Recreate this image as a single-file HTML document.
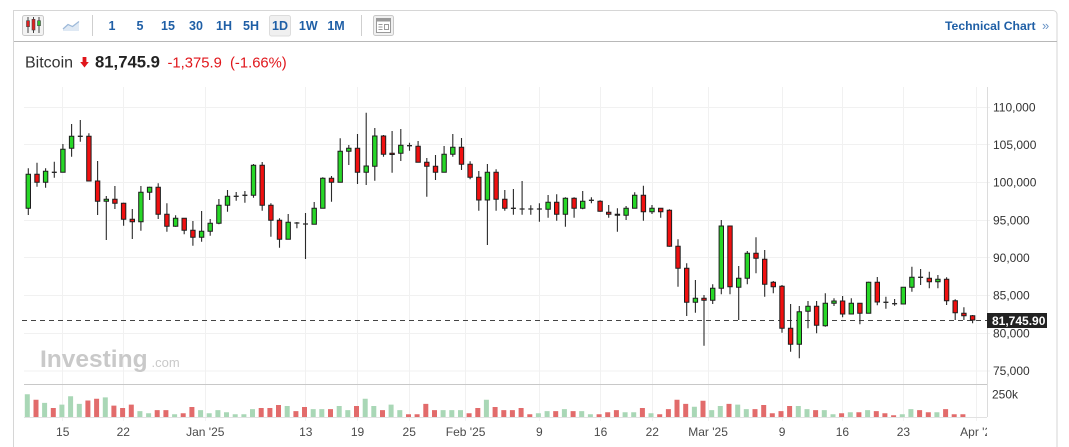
<!DOCTYPE html>
<html><head><meta charset="utf-8"><style>
html,body{margin:0;padding:0;background:#fff;}
svg{display:block;font-family:"Liberation Sans",Arial,sans-serif;}
</style></head><body>
<svg width="1069" height="447" viewBox="0 0 1069 447" xmlns="http://www.w3.org/2000/svg">
<defs><clipPath id="cl"><rect x="0" y="0" width="987" height="447"/></clipPath></defs>
<rect width="1069" height="447" fill="#fff"/>
<!-- outer panel -->
<path d="M13.5 447V10.5H1053a4 4 0 0 1 4 4V447" fill="none" stroke="#d6d6d6"/>
<line x1="14" y1="41.5" x2="1057" y2="41.5" stroke="#b8b8b8"/>
<!-- toolbar -->
<rect x="22.5" y="15.5" width="21" height="20" rx="2" fill="#f3f3f3" stroke="#c8c8c8"/>
<path d="M28 17v16M33.5 17v16M39 17v16" stroke="#444" stroke-width="1"/>
<rect x="26.5" y="20.7" width="3" height="6" fill="#e02020" stroke="#444" stroke-width="0.6"/>
<rect x="32" y="19.3" width="3" height="10.7" fill="#e02020" stroke="#444" stroke-width="0.6"/>
<rect x="37.5" y="20.7" width="3" height="5" fill="#30c030" stroke="#444" stroke-width="0.6"/>
<path d="M63 29L68 24.5L72.5 26.5L79 21.5V31H63Z" fill="#dfe9f4"/>
<path d="M63 29L68 24.5L72.5 26.5L79 21.5" fill="none" stroke="#9db9d9" stroke-width="1.2"/>
<line x1="92.5" y1="15" x2="92.5" y2="36" stroke="#cfcfcf"/>
<rect x="269.5" y="15.5" width="21" height="20.5" rx="2" fill="#f0f0f0" stroke="#dcdcdc"/>
<g fill="#1f5fa6" font-size="12.5" font-weight="bold" text-anchor="middle">
<text x="112" y="30">1</text><text x="140" y="30">5</text><text x="168" y="30">15</text><text x="196" y="30">30</text><text x="224" y="30">1H</text><text x="251" y="30">5H</text><text x="280" y="30">1D</text><text x="308.3" y="30">1W</text><text x="336" y="30">1M</text>
</g>
<line x1="361.5" y1="15" x2="361.5" y2="36" stroke="#cfcfcf"/>
<rect x="373.5" y="15.5" width="20" height="20" rx="2" fill="#f0f0f0" stroke="#c8c8c8"/>
<rect x="376.5" y="18.5" width="14" height="14" fill="#fff" stroke="#9a9a9a"/>
<rect x="376.5" y="18.5" width="14" height="3" fill="#9a9a9a"/>
<path d="M378.5 24.5h4M378.5 27h4M378.5 29.5h4M384.5 24.5h4v5h-4z" stroke="#9a9a9a" fill="none" stroke-width="1"/>
<text x="945" y="30" fill="#1f5fa6" font-size="12.2" font-weight="bold">Technical Chart</text>
<text x="1042" y="30" fill="#6a94c6" font-size="13">»</text>
<!-- quote header -->
<text x="25" y="67.7" fill="#333" font-size="16">Bitcoin</text>
<path d="M82.6 57h3.8v5h2.4L84.5 67.5L80.2 62h2.4z" fill="#e0161b"/>
<text x="95" y="67.7" fill="#222" font-size="16.7" font-weight="bold">81,745.9</text>
<text x="167.5" y="67.7" fill="#e0161b" font-size="14.8">-1,375.9</text>
<text x="230" y="67.7" fill="#e0161b" font-size="14.8">(-1.66%)</text>
<!-- grid -->
<g stroke="#f1f1f1" stroke-width="1">
<path d="M24 107.5H990M24 144.5H990M24 182.5H990M24 220.5H990M24 257.5H990M24 295.5H990M24 333.5H990M24 371H990"/>
<path d="M62.5 87V421M123.5 87V421M205.5 87V421M305.5 87V421M357.5 87V421M409.5 87V421M465.5 87V421M539.5 87V421M600.5 87V421M652.5 87V421M708.5 87V421M782.5 87V421M842.5 87V421M903.5 87V421M976.5 87V421"/>
</g>
<!-- watermark -->
<text x="40" y="367" fill="#c9c9c9" font-size="24.5" font-weight="bold">Investing</text>
<text x="151.5" y="367" fill="#c9c9c9" font-size="13">.com</text>
<!-- axes -->
<line x1="987.5" y1="87" x2="987.5" y2="417" stroke="#dcdcdc"/>
<line x1="24" y1="384.5" x2="987" y2="384.5" stroke="#c8c8c8"/>
<line x1="24" y1="417.5" x2="987" y2="417.5" stroke="#e2e2e2"/>
<g fill="#333" font-size="12">
<text x="993" y="111.5">110,000</text><text x="993" y="149">105,000</text><text x="993" y="186.5">100,000</text><text x="993" y="224.5">95,000</text><text x="993" y="262">90,000</text><text x="993" y="299.5">85,000</text><text x="993" y="337.5">80,000</text><text x="993" y="375">75,000</text><text x="992" y="398.5">250k</text>
</g>
<g fill="#4a4a4a" font-size="12" text-anchor="middle" clip-path="url(#cl)">
<text x="62.7" y="436">15</text><text x="123.3" y="436">22</text><text x="205.3" y="436">Jan '25</text><text x="305.8" y="436">13</text><text x="357.5" y="436">19</text><text x="409.2" y="436">25</text><text x="465.6" y="436">Feb '25</text><text x="539.3" y="436">9</text><text x="600.6" y="436">16</text><text x="652.3" y="436">22</text><text x="708.1" y="436">Mar '25</text><text x="782.1" y="436">9</text><text x="842.4" y="436">16</text><text x="903.4" y="436">23</text><text x="979" y="436">Apr '25</text>
</g>
<!-- volume -->
<path fill="#a9d7b6" d="M24.8 417v-22.7h5v22.7zM42.1 417v-14.1h5v14.1zM59.4 417v-12.4h5v12.4zM68.1 417v-20.7h5v20.7zM76.8 417v-13.1h5v13.1zM102.8 417v-19.6h5v19.6zM137.4 417v-5.9h5v5.9zM146.1 417v-3.8h5v3.8zM172.1 417v-2.8h5v2.8zM198.1 417v-6.9h5v6.9zM206.7 417v-3.8h5v3.8zM215.4 417v-6.9h5v6.9zM224 417v-4.8h5v4.8zM232.7 417v-2.8h5v2.8zM241.4 417v-2.8h5v2.8zM250 417v-7.9h5v7.9zM284.7 417v-11h5v11zM310.7 417v-7.9h5v7.9zM319.3 417v-7.9h5v7.9zM336.7 417v-11h5v11zM345.3 417v-6.9h5v6.9zM362.7 417v-18.3h5v18.3zM371.3 417v-11h5v11zM388.6 417v-12.4h5v12.4zM397.3 417v-6.9h5v6.9zM440.6 417v-6.9h5v6.9zM449.3 417v-6.9h5v6.9zM458 417v-6.9h5v6.9zM483.9 417v-17.2h5v17.2zM535.9 417v-3.8h5v3.8zM544.6 417v-5.9h5v5.9zM561.9 417v-7.9h5v7.9zM579.2 417v-5.9h5v5.9zM587.9 417v-2.8h5v2.8zM622.6 417v-4.8h5v4.8zM631.2 417v-4.8h5v4.8zM648.5 417v-3.8h5v3.8zM691.9 417v-10.3h5v10.3zM709.2 417v-6.9h5v6.9zM717.8 417v-11h5v11zM735.2 417v-12.4h5v12.4zM743.8 417v-7.9h5v7.9zM795.8 417v-11h5v11zM804.5 417v-7.9h5v7.9zM821.8 417v-6.9h5v6.9zM830.5 417v-2.8h5v2.8zM847.8 417v-4.8h5v4.8zM865.1 417v-6.9h5v6.9zM899.8 417v-2.8h5v2.8zM908.4 417v-7.9h5v7.9zM934.4 417v-4.8h5v4.8z"/>
<path fill="#e26b6b" d="M33.5 417v-17.2h5v17.2zM50.8 417v-9h5v9zM85.4 417v-16.5h5v16.5zM94.1 417v-18.3h5v18.3zM111.4 417v-11.4h5v11.4zM120.1 417v-9h5v9zM128.8 417v-12.4h5v12.4zM154.7 417v-6.9h5v6.9zM163.4 417v-6.9h5v6.9zM180.7 417v-3.8h5v3.8zM189.4 417v-10h5v10zM258.7 417v-9h5v9zM267.4 417v-9h5v9zM276 417v-12h5v12zM293.4 417v-5.9h5v5.9zM302 417v-10h5v10zM328 417v-7.9h5v7.9zM354 417v-11h5v11zM380 417v-6.9h5v6.9zM406 417v-2.8h5v2.8zM414.6 417v-2.8h5v2.8zM423.3 417v-13.1h5v13.1zM432 417v-6.9h5v6.9zM466.6 417v-3.8h5v3.8zM475.3 417v-9h5v9zM492.6 417v-10h5v10zM501.3 417v-6.9h5v6.9zM509.9 417v-6.9h5v6.9zM518.6 417v-9h5v9zM527.3 417v-2.8h5v2.8zM553.2 417v-5.9h5v5.9zM570.6 417v-5.9h5v5.9zM596.6 417v-2.8h5v2.8zM605.2 417v-4.8h5v4.8zM613.9 417v-6.9h5v6.9zM639.9 417v-9h5v9zM657.2 417v-2.8h5v2.8zM665.9 417v-7.9h5v7.9zM674.5 417v-17.2h5v17.2zM683.2 417v-13.1h5v13.1zM700.5 417v-16.2h5v16.2zM726.5 417v-13.1h5v13.1zM752.5 417v-7.9h5v7.9zM761.2 417v-12h5v12zM769.8 417v-3.8h5v3.8zM778.5 417v-5.9h5v5.9zM787.1 417v-11h5v11zM813.1 417v-6.9h5v6.9zM839.1 417v-3.8h5v3.8zM856.4 417v-4.8h5v4.8zM873.8 417v-5.9h5v5.9zM882.4 417v-3.8h5v3.8zM891.1 417v-1.7h5v1.7zM917.1 417v-6.9h5v6.9zM925.8 417v-4.8h5v4.8zM943.1 417v-7.9h5v7.9zM951.7 417v-2.8h5v2.8zM960.4 417v-2.8h5v2.8z"/>
<!-- price line -->
<line x1="22" y1="320.5" x2="987" y2="320.5" stroke="#444" stroke-width="1" stroke-dasharray="5 4"/>
<!-- wicks -->
<path fill="none" stroke="#2a2a2a" stroke-width="1.1" d="M28.3 168.3V215M37 162.7V186.7M45.6 168.3V187.7M54.3 161.7V177.7M62.9 144V172.3M71.6 124V156.7M80.3 120V141.7M88.9 133.3V181M97.6 161V215M106.3 196V240M114.9 186V209M123.6 202.7V225.7M132.3 209V239M140.9 186V230.7M149.6 186.7V200M158.2 183.3V219M166.9 203.3V231.7M175.6 215.3V226.7M184.2 218.3V234.3M192.9 221V245.7M201.6 211V241.7M210.2 219V235.7M218.9 199V224.3M227.5 190V211.7M236.2 192V200.7M244.9 191V202.7M253.5 164V197.7M262.2 162V210.7M270.9 203.3V236.7M279.5 218.3V247.7M288.2 214V239.3M296.9 222V228.3M305.5 213V259M314.2 202V224.3M322.8 177.3V208.3M331.5 176V201.7M340.2 138.3V182.3M348.8 145V165M357.5 134V184M366.2 112.7V185M374.8 128V180.7M383.5 135V156.7M392.1 131V172.7M400.8 129V161M409.5 142.7V150.7M418.1 141V162.3M426.8 158V196.7M435.5 155V180M444.1 146V172.3M452.8 134V156.7M461.5 138V170M470.1 161.3V179.3M478.8 171V210.7M487.4 164V245M496.1 169.3V210.7M504.8 190V210.7M513.4 189V214.7M522.1 181V214.7M530.8 205.3V214.7M539.4 203.3V221.7M548.1 195V217.7M556.7 194.3V220.7M565.4 197.3V226.7M574.1 197.3V217.7M582.7 191V209.3M591.4 197.3V203.3M600.1 200.3V211.7M608.7 205V217.7M617.4 208.3V231.7M626.1 206V220M634.7 192.3V208.3M643.4 185.7V220.7M652 205V214M660.7 208.3V217.7M669.4 209.3V246.7M678 239.3V286.7M686.7 263.3V316M695.4 280V312.7M704 295V345.7M712.7 284.3V304M721.3 220V294.3M730 226V294.3M738.7 266V320M747.3 251V284.3M756 237.3V273.3M764.7 250V296.7M773.3 281V293.3M782 285V332.7M790.6 304V351.7M799.3 306V358.3M808 301V328.3M816.6 301V333.3M825.3 293.3V326.7M834 298.3V306M842.6 296V317.3M851.3 298.3V314.3M859.9 303.3V324.3M868.6 281.7V313.3M877.3 277V305.3M885.9 296.7V308.7M894.6 299V305.7M903.3 287.3V304.3M911.9 266.7V291.7M920.6 269V285M929.3 271.7V288.3M937.9 275V288.3M946.6 277.3V305M955.2 299.3V320M963.9 307.3V320M972.6 315V323.3"/>
<path fill="none" stroke="#2a2a2a" stroke-width="1.3" d="M51.8 172.3h5M77.8 136.3h5M233.7 196.3h5M242.4 195.3h5M294.4 223h5M303 224h5M407 145.7h5M510.9 208.3h5M519.6 209h5M528.3 209h5M536.9 209h5M588.9 200.3h5M883.4 302.3h5M892.1 303.7h5M918.1 277.3h5"/>
<!-- green bodies -->
<path fill="#27d727" stroke="#1e1e1e" stroke-width="1" d="M26.1 174.3h4.4v34h-4.4zM43.4 171.3h4.4v11h-4.4zM60.7 149.3h4.4v23h-4.4zM69.4 136.3h4.4v12h-4.4zM104.1 199.3h4.4v2h-4.4zM138.7 192.3h4.4v29.4h-4.4zM147.4 187.3h4.4v5h-4.4zM173.4 218.3h4.4v8h-4.4zM199.4 231.3h4.4v6h-4.4zM208 223.3h4.4v8h-4.4zM216.7 205.3h4.4v18h-4.4zM225.3 196.3h4.4v9h-4.4zM251.3 165.3h4.4v30h-4.4zM286 222.3h4.4v17h-4.4zM312 208.3h4.4v16h-4.4zM320.6 178.3h4.4v30h-4.4zM338 151.3h4.4v31h-4.4zM346.6 148.3h4.4v3h-4.4zM364 166h4.4v6.3h-4.4zM372.6 136h4.4v30.3h-4.4zM398.6 145.3h4.4v8h-4.4zM441.9 154.3h4.4v18h-4.4zM450.6 147.3h4.4v7h-4.4zM485.2 172.3h4.4v27.7h-4.4zM545.9 202.3h4.4v7h-4.4zM563.2 198.3h4.4v16h-4.4zM580.5 201.3h4.4v7h-4.4zM623.9 208.3h4.4v7h-4.4zM632.5 195.3h4.4v13h-4.4zM649.8 208.3h4.4v3.4h-4.4zM693.2 298.3h4.4v4h-4.4zM710.5 288.3h4.4v12h-4.4zM719.1 226h4.4v62.3h-4.4zM736.5 278.3h4.4v9h-4.4zM745.1 253.3h4.4v25h-4.4zM797.1 311.7h4.4v32.6h-4.4zM805.8 306.3h4.4v5h-4.4zM823.1 303.3h4.4v22.4h-4.4zM831.8 301h4.4v2.3h-4.4zM849.1 303.3h4.4v10.7h-4.4zM866.4 282.3h4.4v31h-4.4zM901.1 287.3h4.4v16.7h-4.4zM909.7 277.3h4.4v10h-4.4zM935.7 279.3h4.4v2.4h-4.4z"/>
<!-- red bodies -->
<path fill="#f01010" stroke="#1e1e1e" stroke-width="1" d="M34.8 174.3h4.4v8h-4.4zM86.7 136.3h4.4v44.7h-4.4zM95.4 181h4.4v20.3h-4.4zM112.7 199.3h4.4v4h-4.4zM121.4 203.3h4.4v16h-4.4zM130.1 219.3h4.4v2.4h-4.4zM156 187.3h4.4v27h-4.4zM164.7 214.3h4.4v12h-4.4zM182 218.3h4.4v12h-4.4zM190.7 230.3h4.4v7h-4.4zM260 165.3h4.4v40h-4.4zM268.7 205.3h4.4v15h-4.4zM277.3 220.3h4.4v19h-4.4zM329.3 178.3h4.4v4h-4.4zM355.3 148.3h4.4v24h-4.4zM381.3 136h4.4v18.3h-4.4zM389.9 153.3h4.4v1.2h-4.4zM415.9 146.3h4.4v16h-4.4zM424.6 162.3h4.4v4h-4.4zM433.3 166.3h4.4v6h-4.4zM459.3 147.3h4.4v17h-4.4zM467.9 164.3h4.4v13h-4.4zM476.6 177.3h4.4v22.7h-4.4zM493.9 172.3h4.4v27h-4.4zM502.6 199.3h4.4v9h-4.4zM554.5 202.3h4.4v12h-4.4zM571.9 198.3h4.4v10h-4.4zM597.9 201.3h4.4v10h-4.4zM606.5 212.3h4.4v2h-4.4zM615.2 214.3h4.4v1h-4.4zM641.2 195.3h4.4v16.4h-4.4zM658.5 208.3h4.4v3.4h-4.4zM667.2 210.3h4.4v36h-4.4zM675.8 246.3h4.4v22h-4.4zM684.5 268.3h4.4v34h-4.4zM701.8 298.3h4.4v2h-4.4zM727.8 226h4.4v60.7h-4.4zM753.8 253.3h4.4v5h-4.4zM762.5 259.3h4.4v25h-4.4zM771.1 282.3h4.4v4.4h-4.4zM779.8 286.3h4.4v42h-4.4zM788.4 328.3h4.4v16h-4.4zM814.4 306.3h4.4v19h-4.4zM840.4 301h4.4v13h-4.4zM857.7 303.3h4.4v10h-4.4zM875.1 282.3h4.4v19.7h-4.4zM927.1 278.3h4.4v3.4h-4.4zM944.4 279.3h4.4v21.4h-4.4zM953 300.7h4.4v12h-4.4zM961.7 313.3h4.4v2.4h-4.4zM970.4 315.7h4.4v4.3h-4.4z"/>
<!-- price label -->
<rect x="987" y="313" width="60" height="15" fill="#222"/>
<text x="992" y="325" fill="#fff" font-size="12" font-weight="bold">81,745.90</text>
</svg>
</body></html>
